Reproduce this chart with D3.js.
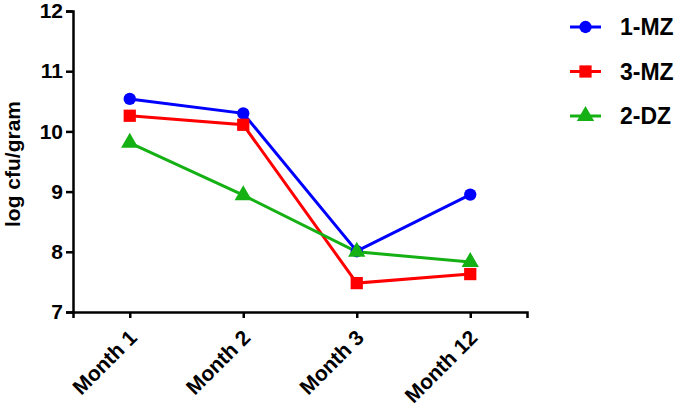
<!DOCTYPE html>
<html>
<head>
<meta charset="utf-8">
<script src="https://cdn.jsdelivr.net/npm/d3@7"></script>
<style>
  body { margin: 0; background: #fff; }
  text { font-family: Arial, "Liberation Sans", sans-serif; font-weight: bold; }
</style>
</head>
<body>
<script>
(function(){
  var width = 676, height = 408;

  var months = ["Month 1", "Month 2", "Month 3", "Month 12"];
  var yTicks = [7, 8, 9, 10, 11, 12];
  var seriesNames = ["1-MZ", "3-MZ", "2-DZ"];
  var mz1 = [10.54, 10.30, 8.01, 8.95];
  var mz3 = [10.26, 10.11, 7.48, 7.63];
  var dz2 = [9.81, 8.94, 8.00, 7.83];
  var colors = ["#0000ff", "#ff0000", "#14b014"];
  var symbols = [d3.symbolCircle, d3.symbolSquare, d3.symbolTriangle];

  var series = [mz1, mz3, dz2].map(function(v, i){
    return { name: seriesNames[i], values: v, color: colors[i], symbol: symbols[i] };
  });

  var svg = d3.select("body").append("svg")
    .attr("width", width)
    .attr("height", height);

  var x = d3.scalePoint().domain(months).range([73, 527]).padding(0.5);
  var y = d3.scaleLinear().domain([7, 12]).range([312, 11]);

  // axes
  var yAxis = svg.append("g")
    .attr("transform", "translate(73,0)")
    .call(d3.axisLeft(y).tickValues(yTicks).tickFormat(d3.format("d")).tickSize(7).tickPadding(3));
  var xAxis = svg.append("g")
    .attr("transform", "translate(0,312)")
    .call(d3.axisBottom(x).tickSize(6));

  [yAxis, xAxis].forEach(function(g){
    g.attr("font-size", null).attr("font-family", null);
    g.select(".domain").attr("stroke", "#000").attr("stroke-width", 2.5);
    g.selectAll(".tick line").attr("stroke", "#000").attr("stroke-width", 2.5);
  });
  yAxis.selectAll(".tick text").style("font-size", "21px").attr("fill", "#000");
  xAxis.selectAll(".tick text")
    .style("font-size", "21px")
    .attr("fill", "#000")
    .attr("text-anchor", "end")
    .attr("dy", null)
    .attr("y", 0)
    .attr("transform", "translate(8,27) rotate(-45)");

  svg.append("text")
    .attr("transform", "translate(20,164) rotate(-90)")
    .attr("text-anchor", "middle")
    .style("font-size", "21px")
    .text("log cfu/gram");

  // lines
  var line = d3.line()
    .x(function(d, i){ return x(months[i]); })
    .y(function(d){ return y(d); });

  var markerSize = [120, 150, 130];

  series.forEach(function(s){
    svg.append("path")
      .datum(s.values)
      .attr("fill", "none")
      .attr("stroke", s.color)
      .attr("stroke-width", 3)
      .attr("d", line);
  });
  series.forEach(function(s, si){
    svg.selectAll(".m" + si)
      .data(s.values)
      .enter().append("path")
      .attr("class", "m" + si)
      .attr("fill", s.color)
      .attr("transform", function(d, i){ return "translate(" + x(months[i]) + "," + y(d) + ")"; })
      .attr("d", d3.symbol().type(s.symbol).size(markerSize[si]));
  });

  // legend
  var legend = svg.append("g");
  series.forEach(function(s, i){
    var ly = 27 + i * 44.5;
    legend.append("line")
      .attr("x1", 570).attr("x2", 601)
      .attr("y1", ly).attr("y2", ly)
      .attr("stroke", s.color).attr("stroke-width", 3);
    legend.append("path")
      .attr("transform", "translate(585.5," + ly + ")")
      .attr("fill", s.color)
      .attr("d", d3.symbol().type(s.symbol).size(markerSize[i]));
    legend.append("text")
      .attr("x", 620).attr("y", ly + 8)
      .style("font-size", "23px")
      .text(s.name);
  });
})();
</script>
</body>
</html>
